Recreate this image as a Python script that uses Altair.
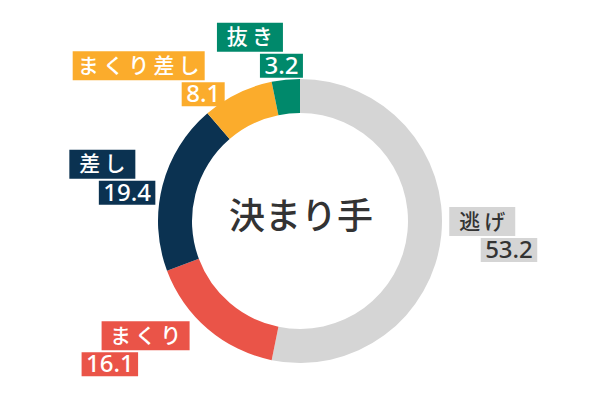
import math
import altair as alt
import pandas as pd

# ---- data ----
categories = ["逃げ", "まくり", "差し", "まくり差し", "抜き"]
values = [53.2, 16.1, 19.4, 8.1, 3.2]
value_labels = ["53.2", "16.1", "19.4", "8.1", "3.2"]
center_title = "決まり手"

# ---- styles ----
colors = ["#d5d5d5", "#ea5448", "#0b3251", "#fbac2c", "#00896b"]
text_colors = ["#333333", "white", "white", "white", "white"]
FONT = "Noto Sans CJK JP"
NUM_FONT = "Noto Sans"

# geometry (screen px; the view starts at the 8px page margin)
CX, CY = 300, 221
R_OUT, R_IN = 142, 108
W, H = 584, 384

arc_df = pd.DataFrame({"cat": categories, "value": values, "idx": list(range(len(values)))})

# ---- label layout derived from slice angles ----
total = sum(values)
mids = []
cum = 0.0
for v in values:
    mids.append((cum + v / 2) / total * 360.0)
    cum += v


def boxes_for(cat, lab, ang):
    right_side = ang < 180
    r = 150 if right_side else 170
    a = math.radians(ang)
    ax = CX + r * math.sin(a)
    ay = CY - r * math.cos(a)
    nw = 22 * len(cat) + 22
    vw = 13.5 * (len(lab) - 1) + 6 + 10
    if right_side:
        n = (ax, ax + nw)
        vr = n[1] + 22
        v = (vr - vw, vr)
    else:
        n = (ax - nw, ax)
        if ang < 270:
            v = (n[0] - 20, n[0] - 20 + vw)
        else:
            vr = n[1] + 20
            v = (vr - vw, vr)
    nb = (n[0], n[1], ay - 29, ay)
    vb = (v[0], v[1], ay + 2, ay + 26)
    return nb, vb


def overlap(b1, b2, m=12):
    return not (b1[1] + m <= b2[0] or b2[1] + m <= b1[0] or b1[3] + m <= b2[2] or b2[3] + m <= b1[2])


placed = []
layout = {}
# left side labels from the top, counter-clockwise, pushed away on collision
order_left = [i for i in sorted(range(len(values)), key=lambda i: -mids[i]) if mids[i] >= 180]
order_right = [i for i in range(len(values)) if mids[i] < 180]
for i in order_left + order_right:
    ang = mids[i]
    step = -1 if ang >= 180 else 1
    for _ in range(60):
        nb, vb = boxes_for(categories[i], value_labels[i], ang)
        if not any(overlap(nb, p) or overlap(vb, p) for p in placed):
            break
        ang += step
    placed += [nb, vb]
    layout[i] = (nb, vb)

rect_rows, text_rows = [], []
for i, (nb, vb) in layout.items():
    for b, txt, kind in ((nb, "\u2009".join(categories[i]), "name"), (vb, value_labels[i], "value")):
        rect_rows.append({"cat": categories[i], "x": b[0], "x2": b[1], "y": b[2], "y2": b[3]})
        text_rows.append({"cat": categories[i], "tx": (b[0] + b[1]) / 2, "ty": (b[2] + b[3]) / 2 + 1,
                          "text": txt, "kind": kind, "tcol": text_colors[i]})
rect_df = pd.DataFrame(rect_rows)
text_df = pd.DataFrame(text_rows)
title_df = pd.DataFrame({"tx": [CX + 1], "ty": [CY - 3], "text": [center_title]})

xs = alt.Scale(domain=[8, 8 + W], nice=False, zero=False)
ys = alt.Scale(domain=[8, 8 + H], nice=False, zero=False, reverse=True)
col = alt.Color("cat:N", scale=alt.Scale(domain=categories, range=colors), legend=None)

arcs = alt.Chart(arc_df).mark_arc(outerRadius=R_OUT, innerRadius=R_IN).encode(
    theta=alt.Theta("value:Q", stack=True),
    order=alt.Order("idx:Q"),
    color=col,
    x=alt.value(CX - 8),
    y=alt.value(CY - 8),
)

rects = alt.Chart(rect_df).mark_rect().encode(
    x=alt.X("x:Q", scale=xs, axis=None),
    x2="x2:Q",
    y=alt.Y("y:Q", scale=ys, axis=None),
    y2="y2:Q",
    color=col,
)


def text_layer(kind, font, size, weight):
    return alt.Chart(text_df).transform_filter(alt.datum.kind == kind).mark_text(
        font=font, fontSize=size, fontWeight=weight, baseline="middle", align="center"
    ).encode(
        x=alt.X("tx:Q", scale=xs, axis=None),
        y=alt.Y("ty:Q", scale=ys, axis=None),
        text="text:N",
        fill=alt.Fill("tcol:N", scale=None),
    )


title = alt.Chart(title_df).mark_text(
    font=FONT, fontSize=36, fontWeight=500, color="#333333", baseline="middle", align="center"
).encode(
    x=alt.X("tx:Q", scale=xs, axis=None),
    y=alt.Y("ty:Q", scale=ys, axis=None),
    text="text:N",
)

chart = alt.layer(
    arcs, rects,
    text_layer("name", FONT, 21, 500),
    text_layer("value", NUM_FONT, 24, 500),
    title,
).properties(
    width=W, height=H, padding=0, autosize=alt.AutoSizeParams(type="none")
).configure_view(stroke=None)

chart.save("out.html", embed_options={"renderer": "svg", "actions": False})
